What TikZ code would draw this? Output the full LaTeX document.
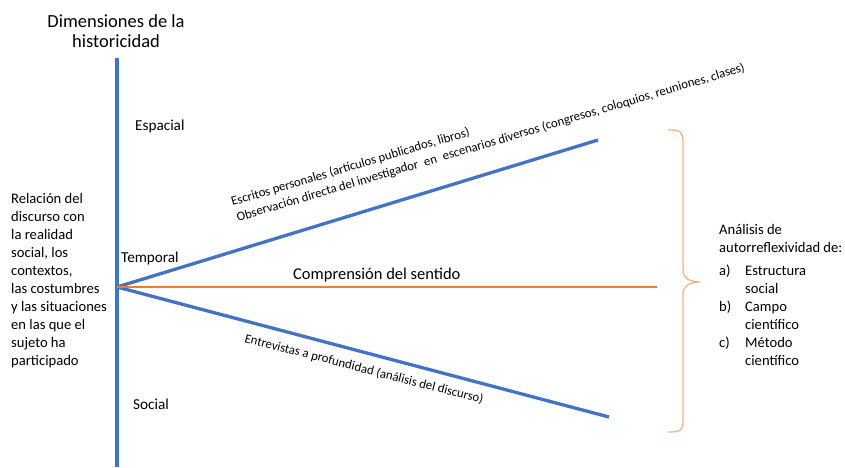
\documentclass[tikz,border=0pt]{standalone}
\usepackage{fontspec}
\setmainfont{Carlito}
\definecolor{oblue}{HTML}{4472C4}
\definecolor{oorange}{HTML}{ED7D31}
\definecolor{lorange}{HTML}{F4B183}
\begin{document}
\begin{tikzpicture}[x=1pt,y=-1pt,
  blueline/.style={draw=oblue,line width=3.3pt},
  orangeline/.style={draw=oorange,line width=2.4pt},
  bracestyle/.style={draw=lorange,line width=1.3pt},
  body/.style={font=\fontsize{14.6}{18}\selectfont,inner sep=0pt},
  dimlabel/.style={font=\fontsize{15.2}{18}\selectfont,inner sep=0pt,anchor=base west},
  rottext/.style={font=\fontsize{12.8}{15.6}\selectfont,inner sep=0pt,anchor=base west}
]
\useasboundingbox (0,0) rectangle (845,467);
\coordinate (vtop) at (117,58);
\coordinate (vbot) at (117,467);
\coordinate (apex) at (117,287);
\coordinate (upend) at (598,140);
\coordinate (midend) at (657,287);
\coordinate (lowend) at (609,417);

\draw[blueline] (vtop) -- (vbot);
\draw[blueline] (apex) -- (upend);
\draw[blueline] (apex) -- (lowend);
\draw[orangeline] (apex) -- (midend);

\node[font=\fontsize{18.5}{20}\selectfont,inner sep=0pt,align=center,anchor=base] (title) at (116,47) {Dimensiones de la\\historicidad};

\node[dimlabel] (espacial) at (135,130) {Espacial};
\node[dimlabel] (temporal) at (121,262) {Temporal};
\node[dimlabel] (social) at (133,409) {Social};

\node[font=\fontsize{16.5}{20}\selectfont,inner sep=0pt,anchor=base west] (compr) at (293,279) {Comprensión del sentido};

\node[rottext,rotate=16.5] (escritos) at (232.5,206) {Escritos personales (artículos publicados, libros)};
\node[rottext,rotate=16.5] (observ) at (238,221.5) {Observación directa del investigador\hspace{0.5em}en\hspace{0.5em}escenarios diversos (congresos, coloquios, reuniones, clases)};
\node[rottext,rotate=-14.5] (entrev) at (244,342) {Entrevistas a profundidad (análisis del discurso)};

\node[body,align=left,anchor=base west] (relacion) at (11,365) {Relación del\\discurso con\\la realidad\\social, los\\contextos,\\las costumbres\\y las situaciones\\en las que el\\sujeto ha\\participado};

\draw[bracestyle] (668,130) .. controls (680,130) and (683,131) .. (683,142) -- (683,270) .. controls (683,278) and (690,282) .. (700,282) .. controls (690,282) and (683,286) .. (683,294) -- (683,421) .. controls (683,431) and (680,432) .. (668,432);

\node[body,align=left,anchor=base west] (analisis) at (719,252) {Análisis de\\autorreflexividad de:};
\node[body,anchor=base west] (lista) at (719,275) {\begin{tabular}[t]{@{}p{26pt}@{}l@{}}
a) & Estructura\\
   & social\\
b) & Campo\\
   & científico\\
c) & Método\\
   & científico
\end{tabular}};
\end{tikzpicture}
\end{document}
